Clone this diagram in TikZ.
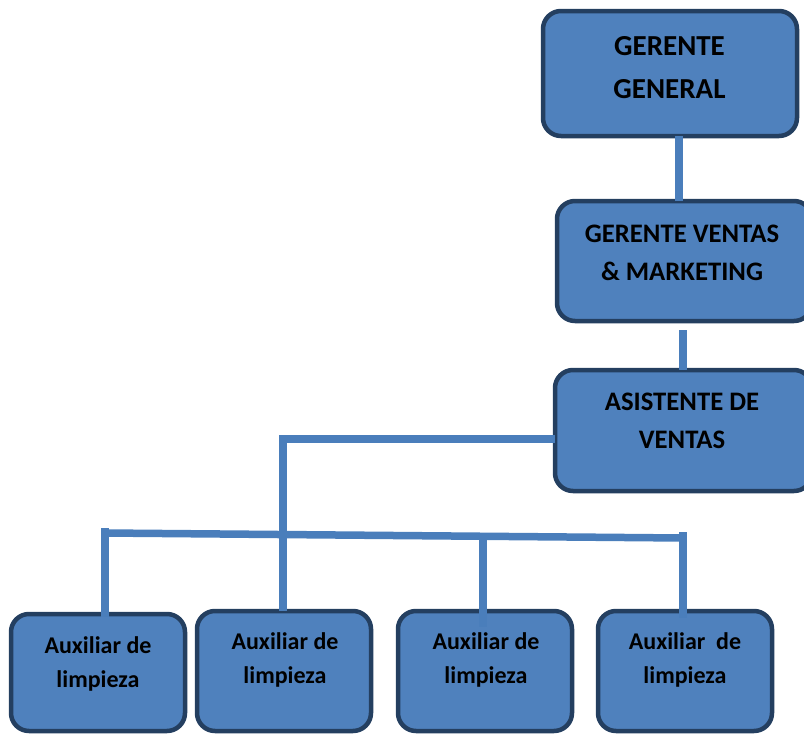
\documentclass[tikz,border=0pt]{standalone}
\usepackage{fontspec}
\setmainfont{Carlito}
\definecolor{boxfill}{HTML}{4F81BD}
\definecolor{boxedge}{HTML}{243F60}
\definecolor{wire}{HTML}{4A7EBB}
\tikzset{
  orgbox/.style={draw=boxedge, fill=boxfill, line width=4.5pt, rounded corners=18pt,
    rectangle, inner sep=0pt, outer sep=0pt},
  wireline/.style={draw=wire, line width=7.5pt},
  % labels are placed by the baseline of their last line
  toplbl/.style={font=\bfseries\fontsize{26.7}{38}\selectfont, align=center, anchor=base, inner sep=0pt},
  botlbl/.style={font=\bfseries\fontsize{24}{34}\selectfont, align=center, anchor=base, inner sep=0pt},
}
\begin{document}
\begin{tikzpicture}[x=1pt,y=-1pt]
\useasboundingbox (0,0) rectangle (804,734);

% upper chain of positions
\node[orgbox, minimum width=254pt, minimum height=125pt] (gg) at (670,73.5) {};
\node[orgbox, minimum width=255pt, minimum height=120pt] (gv) at (684.5,261) {};
\node[orgbox, minimum width=257pt, minimum height=121pt] (as) at (683.5,430.5) {};

\node[toplbl, font=\bfseries\fontsize{29}{43}\selectfont] (ggt) at (669.5,98) {GERENTE\\GENERAL};
\node[toplbl] (gvt) at (682,280) {GERENTE VENTAS\\\& MARKETING};
\node[toplbl] (ast) at (682,448) {ASISTENTE DE\\VENTAS};

% cleaning staff boxes
\node[orgbox, minimum width=174pt, minimum height=117pt] (a1) at (98,672.5) {};
\node[orgbox, minimum width=174pt, minimum height=120pt] (a2) at (284,671) {};
\node[orgbox, minimum width=174pt, minimum height=120pt] (a3) at (485,671) {};
\node[orgbox, minimum width=174pt, minimum height=120pt] (a4) at (685,671) {};

\node[botlbl] (a1t) at (98,687) {Auxiliar de\\limpieza};
\node[botlbl] (a2t) at (285,683) {Auxiliar de\\limpieza};
\node[botlbl] (a3t) at (486,683) {Auxiliar de\\limpieza};
\node[botlbl] (a4t) at (685,683) {Auxiliar\ \ de\\limpieza};

% connectors
\coordinate (s1) at (679,136);
\coordinate (s2) at (683,330);
\draw[wireline] (s1 |- gg.south) -- (s1 |- gv.north);
\draw[wireline] (s2) -- (s2 |- as.north);

\coordinate (tap) at (555,439);
\coordinate (drop) at (283,439);
\draw[wireline] (tap) -- (drop) -- (drop |- a2.north);

% slightly sloping bus to the cleaning staff
\coordinate (busL) at (105,533);
\coordinate (busR) at (683,538);
\coordinate (busM) at (483,537.5);
\draw[wireline] (busL) -- (busR);
\draw[wireline] (105,528) -- ([yshift=-3pt]busL |- a1.north);
\draw[wireline] (busM) -- ([yshift=-16pt]busM |- a3.north);
\draw[wireline] (683,532) -- ([yshift=-7pt]busR |- a4.north);
\end{tikzpicture}
\end{document}
